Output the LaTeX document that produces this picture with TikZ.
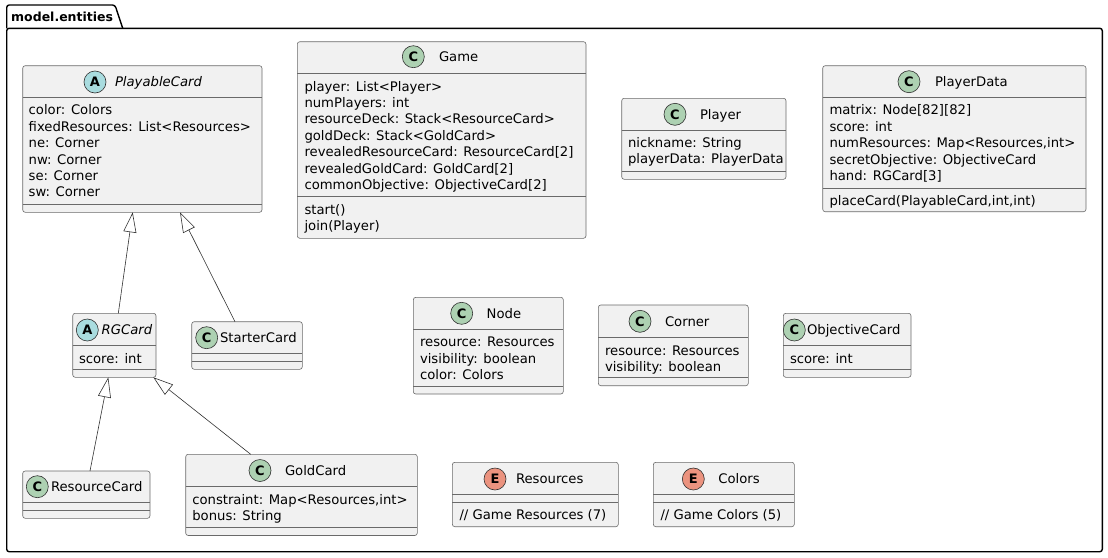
\documentclass[tikz,border=0pt]{standalone}
\usepackage{fontspec}
\setmainfont{DejaVu Sans}
\usetikzlibrary{arrows.meta,calc}
\definecolor{boxfill}{HTML}{F1F1F1}
\definecolor{boxline}{HTML}{6A6A6A}
\definecolor{edgeline}{HTML}{303030}
\definecolor{cgreen}{HTML}{ADD1B2}
\definecolor{acyan}{HTML}{A9DCDF}
\definecolor{ered}{HTML}{EB937F}
\tikzset{
  umlboxstyle/.style={draw=boxline, fill=boxfill, line width=0.6pt, rounded corners=2.5pt, inner sep=0pt, outer sep=0pt},
  sepline/.style={draw=boxline, line width=0.6pt},
  umliconstyle/.style={circle, draw=edgeline, line width=0.6pt, minimum size=22pt, inner sep=0pt, font=\bfseries\fontsize{13}{13}\selectfont},
  txt/.style={inner sep=0pt, outer sep=0pt, font=\fontsize{13.2}{16.4}\selectfont},
  ext/.style={draw=edgeline, line width=0.6pt, -{Triangle[length=20pt, width=13pt, fill=white, line width=0.6pt]}},
  pkgbox/.style={draw=black, line width=1.4pt, rounded corners=2.5pt, inner sep=0pt, outer sep=0pt},
  pkgline/.style={draw=black, line width=1.4pt, rounded corners=2.5pt}
}
\newcommand\umlbox[5]{\node[umlboxstyle, minimum width=#4pt, minimum height=#5pt, anchor=north west] (#1) at (#2,#3) {};}
\newcommand\umlsep[2]{\draw[sepline] (#1.west |- 0,#2) -- (#1.east |- 0,#2);}
\newcommand\umlicon[5]{\node[umliconstyle, fill=#4] (#1-icon) at (#2,#3) {#5};}
\newcommand\umltitle[4]{\node[txt, anchor=base west] (#1-title) at (#2,#3+4.8) {#4};}
\newcommand\umllines[4]{\foreach \myline [count=\i from 0] in {#4} {\node[txt, anchor=base west] (#1-\i) at (#2,{#3+4.8+\i*16.4}) {\myline};}}
\begin{document}
\begin{tikzpicture}[x=1pt,y=-1pt]
\fill[white] (0,0) rectangle (1108,557);
\useasboundingbox (0,0) rectangle (1108,557);
% package
\node[pkgbox, minimum width=1095.6pt, minimum height=523.4pt, anchor=north west] (pkg) at (6.7,28.3) {};
\draw[pkgline] (pkg.north west) -- ++(0,-23.3) -- (115,5) -- (122.7,28.3);
\node[anchor=base west, inner sep=0pt, font=\bfseries\fontsize{12.5}{12.5}\selectfont] (pkg-title) at (11,21.7) {model.entities};

% PlayableCard
\umlbox{pc}{22.7}{65.7}{239.3}{146.6}
\umlsep{pc}{97.7}\umlsep{pc}{204}
\umlicon{pc}{95}{82}{acyan}{A}
\umltitle{pc}{115}{82}{\itshape PlayableCard}
\umllines{pc}{28.7}{110}{{color: Colors},{fixedResources: List<Resources>},{ne: Corner},{nw: Corner},{se: Corner},{sw: Corner}}

% Game
\umlbox{game}{297.3}{41.7}{288.7}{196.6}
\umlsep{game}{73.3}\umlsep{game}{196.7}
\umlicon{game}{413.3}{56.7}{cgreen}{C}
\umltitle{game}{439}{56.7}{Game}
\umllines{game}{304.5}{86.3}{{player: List<Player>},{numPlayers: int},{resourceDeck: Stack<ResourceCard>},{goldDeck: Stack<GoldCard>},{revealedResourceCard: ResourceCard[2]},{revealedGoldCard: GoldCard[2]},{commonObjective: ObjectiveCard[2]}}
\umllines{gamem}{304.5}{209.5}{{start()},{join(Player)}}

% Player
\umlbox{player}{621.7}{98.3}{164.3}{81}
\umlsep{player}{130}\umlsep{player}{171.7}
\umlicon{player}{675}{114.3}{cgreen}{C}
\umltitle{player}{700}{114.3}{Player}
\umllines{player}{628}{142.7}{{nickname: String},{playerData: PlayerData}}

% PlayerData
\umlbox{pd}{822.7}{65.7}{263.3}{146}
\umlsep{pd}{97.3}\umlsep{pd}{188.3}
\umlicon{pd}{909}{81.7}{cgreen}{C}
\umltitle{pd}{935}{81.7}{PlayerData}
\umllines{pd}{829.5}{110}{{matrix: Node[82][82]},{score: int},{numResources: Map<Resources,int>},{secretObjective: ObjectiveCard},{hand: RGCard[3]}}
\umllines{pdm}{829.5}{200.5}{{placeCard(PlayableCard,int,int)}}

% RGCard
\umlbox{rg}{72.7}{313.3}{83.3}{64}
\umlsep{rg}{345.7}\umlsep{rg}{369}
\umlicon{rg}{87.3}{330}{acyan}{A}
\umltitle{rg}{101.7}{330}{\itshape RGCard}
\umllines{rg}{79}{358.3}{{score: int}}

% StarterCard
\umlbox{sc}{191.7}{321.7}{110.6}{47.6}
\umlsep{sc}{353.3}\umlsep{sc}{361}
\umlicon{sc}{206.7}{337.7}{cgreen}{C}
\umltitle{sc}{220}{337.7}{StarterCard}

% ResourceCard
\umlbox{rc}{22.7}{471}{127.3}{47.3}
\umlsep{rc}{502.3}\umlsep{rc}{510}
\umlicon{rc}{37.3}{486.7}{cgreen}{C}
\umltitle{rc}{51}{486.7}{ResourceCard}

% GoldCard
\umlbox{gc}{185.7}{454.3}{231.6}{81.2}
\umlsep{gc}{486.7}\umlsep{gc}{527.5}
\umlicon{gc}{260}{470.5}{cgreen}{C}
\umltitle{gc}{285}{470.5}{GoldCard}
\umllines{gc}{192.3}{499.4}{{constraint: Map<Resources,int>},{bonus: String}}

% Node
\umlbox{nd}{413.3}{297.3}{150}{96.7}
\umlsep{nd}{329.3}\umlsep{nd}{386.7}
\umlicon{nd}{461.7}{313.3}{cgreen}{C}
\umltitle{nd}{486.7}{313.3}{Node}
\umllines{nd}{420}{342}{{resource: Resources},{visibility: boolean},{color: Colors}}

% Corner
\umlbox{cn}{598.3}{305}{150}{80.7}
\umlsep{cn}{337.7}\umlsep{cn}{377.3}
\umlicon{cn}{640}{321.3}{cgreen}{C}
\umltitle{cn}{665}{321.3}{Corner}
\umllines{cn}{605}{350.4}{{resource: Resources},{visibility: boolean}}

% ObjectiveCard
\umlbox{oc}{783.3}{313.3}{127.7}{64}
\umlsep{oc}{345.7}\umlsep{oc}{369.3}
\umlicon{oc}{794.3}{330}{cgreen}{C}
\umltitle{oc}{807}{330}{ObjectiveCard}
\umllines{oc}{790}{358.4}{{score: int}}

% Resources
\umlbox{res}{452.3}{462.3}{166}{64.4}
\umlsep{res}{494.3}\umlsep{res}{502.3}
\umlicon{res}{495}{479}{ered}{E}
\umltitle{res}{516}{479}{Resources}
\umllines{res}{459.5}{515}{{// Game Resources (7)}}

% Colors
\umlbox{col}{653.3}{462.3}{141}{64.4}
\umlsep{col}{494.3}\umlsep{col}{502.3}
\umlicon{col}{693.3}{479}{ered}{E}
\umltitle{col}{718.3}{479}{Colors}
\umllines{col}{660.5}{515}{{// Game Colors (5)}}

% generalizations
\draw[ext] ([xshift=45.6pt]rg.north west) -- ([xshift=110pt]pc.south west);
\draw[ext] ([xshift=43.3pt]sc.north west) -- ([xshift=157.3pt]pc.south west);
\draw[ext] ([xshift=67.3pt]rc.north west) -- ([xshift=35.6pt]rg.south west);
\draw[ext] ([xshift=65pt]gc.north west) -- ([xshift=80.6pt]rg.south west);
\end{tikzpicture}
\end{document}
